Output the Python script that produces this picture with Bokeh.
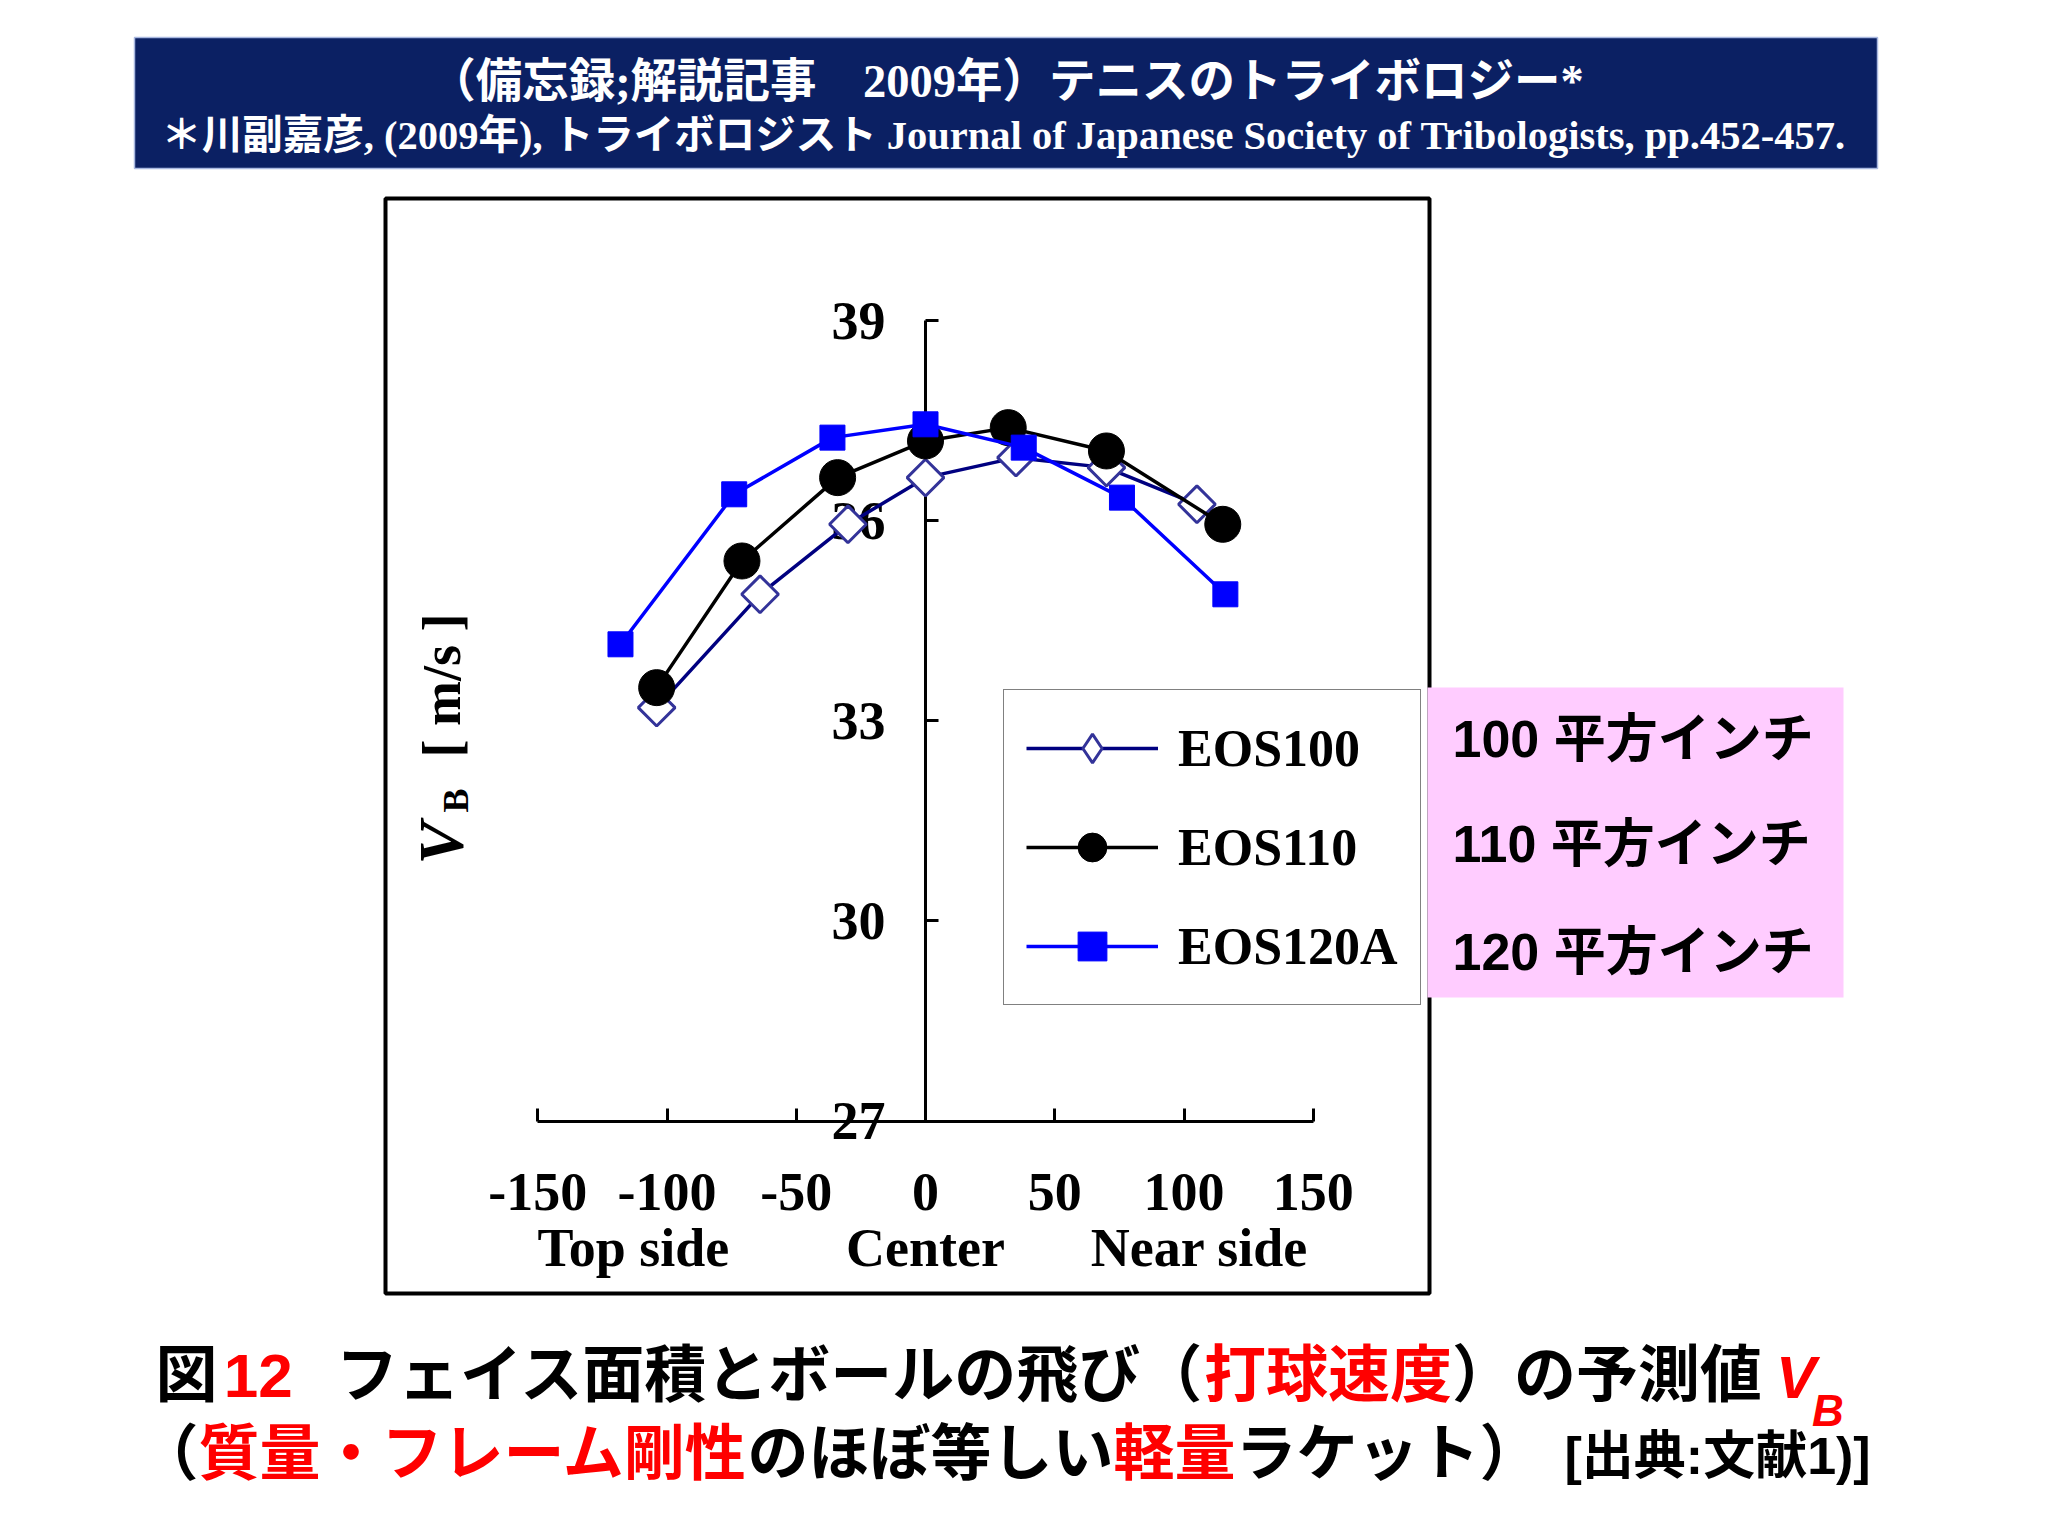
import math
from bokeh.plotting import figure
from bokeh.models import (Range1d, LinearAxis, FixedTicker, Label, BoxAnnotation,
                          Legend, LegendItem, PrintfTickFormatter, Grid)
from bokeh.embed import file_html
from bokeh.resources import INLINE

# ---------------- data ----------------
eos100_x = [-104, -64, -30, 0, 35, 70, 105]
eos100_y = [33.2, 34.9, 35.95, 36.65, 36.95, 36.8, 36.25]
eos110_x = [-104, -71, -34, 0, 32, 70, 115]
eos110_y = [33.5, 35.4, 36.65, 37.2, 37.4, 37.05, 35.95]
eos120a_x = [-118, -74, -36, 0, 38, 76, 116]
eos120a_y = [34.15, 36.4, 37.25, 37.45, 37.1, 36.35, 34.9]

series_names = ["EOS100", "EOS110", "EOS120A"]
area_labels = ["100 平方インチ", "110 平方インチ", "120 平方インチ"]
x_ticks = [-150, -100, -50, 0, 50, 100, 150]
y_ticks = [27, 30, 33, 36, 39]
x_side_labels = ["Top side", "Center", "Near side"]
x_side_pos = [-113, 0, 106]

banner_line1 = "（備忘録;解説記事　2009年）テニスのトライボロジー*"
banner_line2 = "＊川副嘉彦, (2009年), トライボロジスト Journal of Japanese Society of Tribologists, pp.452-457."

RED = "#FF0000"
caption1 = [("図", "black", 0.0), ("12", RED, 0.1), ("フェイス面積とボールの飛び（", "black", 0.7),
            ("打球速度", RED, 0.0), ("）の予測値", "black", 0.0)]
caption2 = [("（", "black", 0.0), ("質量・フレーム剛性", RED, 0.0), ("のほぼ等しい", "black", 0.0),
            ("軽量", RED, 0.0), ("ラケット）", "black", 0.0)]
caption2_ref = "[出典:文献1)]"

# ---------------- page geometry ----------------
W, H = 2032, 1520
PX0, KX = 925.0, 2.585      # image x of x=0, px per unit
PY27, KY = 1120.5, 66.67    # image y of y=27, px per unit


def X(px):
    return (px - PX0) / KX


def Y(py):
    return 27 + (PY27 - py) / KY


p = figure(width=W, height=H, output_backend="svg", toolbar_location=None,
           x_range=Range1d(X(0), X(W)), y_range=Range1d(Y(H), Y(0)),
           x_axis_location=None, y_axis_location=None, min_border=0, title=None)
p.outline_line_color = None
p.background_fill_color = "white"
p.border_fill_color = "white"
for r in list(p.center):
    if isinstance(r, Grid):
        r.visible = False

SERIF = "Liberation Serif, Noto Sans CJK JP"
SANS = "Liberation Sans, Noto Sans CJK JP"

# banner
p.add_layout(BoxAnnotation(left=X(134), right=X(1877), top=Y(37), bottom=Y(168),
                           fill_color="#0b2063", fill_alpha=1,
                           line_color="#a9b8e0", line_alpha=1, line_width=1.5))
# chart frame
p.add_layout(BoxAnnotation(left=X(385), right=X(1429), top=Y(198), bottom=Y(1293),
                           fill_alpha=0, line_color="black", line_alpha=1, line_width=4))
# pink box
p.add_layout(BoxAnnotation(left=X(1427), right=X(1843), top=Y(687), bottom=Y(997),
                           fill_color="#FFCCFF", fill_alpha=1, line_color=None))


def lab(px, py, text, size, color="black", font=SERIF, style="bold",
        align="left", baseline="middle", angle=0.0):
    p.add_layout(Label(x=X(px), y=Y(py), text=text, text_font=font,
                       text_font_size=f"{size}px", text_font_style=style,
                       text_color=color, text_align=align, text_baseline=baseline,
                       angle=angle))


lab(1006, 81, banner_line1, 46.5, color="white", align="center")
lab(1003, 135, banner_line2, 40.5, color="white", align="center")

# ---------------- axes ----------------
xax = LinearAxis(fixed_location=27, ticker=FixedTicker(ticks=x_ticks), bounds=(-150, 150),
                 formatter=PrintfTickFormatter(format="%d"))
yax = LinearAxis(fixed_location=0, ticker=FixedTicker(ticks=y_ticks), bounds=(27, 39),
                 formatter=PrintfTickFormatter(format="%d"))
for ax in (xax, yax):
    ax.axis_line_width = 3
    ax.axis_line_color = "black"
    ax.major_tick_line_width = 3
    ax.major_tick_line_color = "black"
    ax.major_tick_in = 13
    ax.major_tick_out = 0
    ax.minor_tick_line_color = None
    ax.major_label_text_font = "Liberation Serif"
    ax.major_label_text_font_style = "bold"
    ax.major_label_text_font_size = "54px"
    ax.major_label_text_color = "black"
xax.major_label_standoff = 53
yax.major_label_standoff = 40
p.add_layout(xax, "below")
p.add_layout(yax, "left")

for t, xp in zip(x_side_labels, x_side_pos):
    p.add_layout(Label(x=xp, y=Y(1247), text=t, text_font="Liberation Serif",
                       text_font_size="54px", text_font_style="bold",
                       text_color="black", text_align="center", text_baseline="middle"))

# y-axis title (rotated)
lab(441, 864, "V", 64, style="bold italic", angle=math.pi / 2)
lab(455, 812, "B", 36, angle=math.pi / 2)
lab(441, 757, "[ m/s ]", 54, angle=math.pi / 2)

# ---------------- data ----------------
# legend glyph for EOS100 (a diamond, hidden underneath the rotated squares in the plot)
proxy1 = p.scatter(eos100_x, eos100_y, marker="diamond", size=24, fill_color="white",
                   line_color="#333399", line_width=3, level="underlay")
l1 = p.line(eos100_x, eos100_y, line_color="#000080", line_width=3.5, level="overlay")
s1 = p.scatter(eos100_x, eos100_y, marker="square", angle=math.pi / 4, size=26,
               fill_color="white", line_color="#333399", line_width=3, level="overlay")
l2 = p.line(eos110_x, eos110_y, line_color="black", line_width=3.5, level="overlay")
s2 = p.scatter(eos110_x, eos110_y, marker="circle", size=36, fill_color="black",
               line_color="black", level="overlay")
l3 = p.line(eos120a_x, eos120a_y, line_color="#0000FF", line_width=3.5, level="overlay")
s3 = p.scatter(eos120a_x, eos120a_y, marker="square", size=25, fill_color="#0000FF",
               line_color="#0000FF", level="overlay")

legend = Legend(items=[LegendItem(label=series_names[0], renderers=[l1, proxy1]),
                       LegendItem(label=series_names[1], renderers=[l2, s2]),
                       LegendItem(label=series_names[2], renderers=[l3, s3])],
                location=(1003, H - 1005),
                glyph_width=132, glyph_height=72, label_height=72, label_standoff=20,
                spacing=27, padding=22, margin=0,
                border_line_color="#808080", border_line_width=1.5, border_line_alpha=1,
                background_fill_color="white", background_fill_alpha=1,
                label_text_font="Liberation Serif", label_text_font_style="bold",
                label_text_font_size="52px", label_text_color="black")
p.add_layout(legend)

# pink box texts
for t, py in zip(area_labels, [738, 843, 951]):
    lab(1452, py, t, 52, font=SANS)

# ---------------- caption ----------------
LATIN = {" ": 0.278, "(": 0.333, ")": 0.333, "[": 0.333, "]": 0.333, ":": 0.333}


def em_width(s):
    w = 0.0
    for c in s:
        if ord(c) >= 0x2E80:
            w += 1.0
        else:
            w += LATIN.get(c, 0.556)
    return w


def layout_line(segs, x0, py, size):
    x = x0
    for text, color, gap in segs:
        x += gap * size
        lab(x, py, text, size, color=color, font=SANS)
        x += em_width(text) * size
    return x


end1 = layout_line(caption1, 155, 1375, 62)
lab(end1 + 14, 1377, "V", 60, color=RED, font=SANS, style="bold italic")
lab(end1 + 50, 1410, "B", 44, color=RED, font=SANS, style="bold italic")
layout_line(caption2, 137, 1453, 61)
lab(1564, 1455, caption2_ref, 52, font=SANS)

open("out.html", "w").write(file_html(p, INLINE, title="テニスのトライボロジー"))
